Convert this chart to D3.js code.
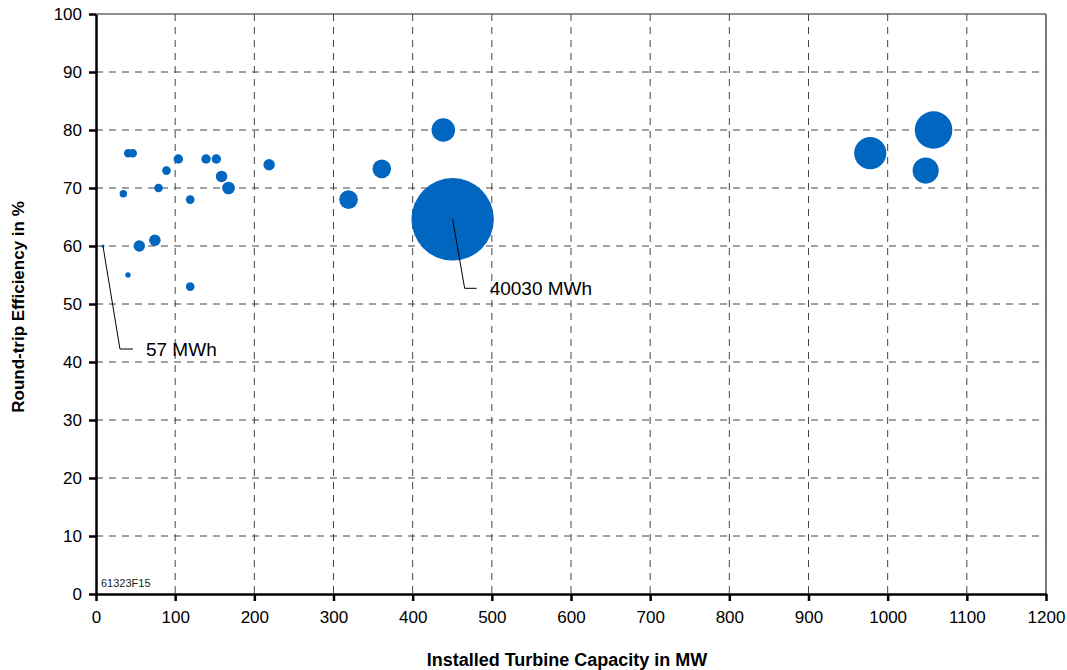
<!DOCTYPE html>
<html>
<head>
<meta charset="utf-8">
<script src="https://cdn.jsdelivr.net/npm/d3@7"></script>
<style>
  body { margin: 0; background: #fff; }
  svg { display: block; font-family: "Liberation Sans", Arial, sans-serif; }
</style>
</head>
<body>
<div id="chart"></div>
<script>
// installed turbine capacity (MW), round-trip efficiency (%), storage (MWh)
const capacity   = [8.8, 34.5, 40.4, 40.8, 46.3, 54.7, 74.4, 79, 89, 104, 119, 119, 139, 152, 158.6, 167.4, 218.7, 319, 361, 438.7, 450.5, 978, 1048, 1058];
const efficiency = [60, 69, 55, 76, 76, 60, 61, 70, 73, 75, 68, 53, 75, 75, 72, 70, 74, 68, 73.3, 80, 64.6, 76, 73, 80];
const storage    = [57, 326, 174, 440, 440, 774, 774, 440, 440, 526, 440, 440, 526, 526, 774, 945, 774, 2060, 2060, 3260, 40030, 6100, 4020, 8330];

const xTicks = [0, 100, 200, 300, 400, 500, 600, 700, 800, 900, 1000, 1100, 1200];
const yTicks = [0, 10, 20, 30, 40, 50, 60, 70, 80, 90, 100];

// annotated bubbles: index into the arrays above and the text shown
const callouts = [
  {i: 0,  text: "57 MWh",    dx: 17, dy: 103, h: 13},
  {i: 20, text: "40030 MWh", dx: 12, dy: 69,  h: 12}
];

const W = 1067, H = 670;
const margin = {top: 14, right: 21, bottom: 76, left: 96};
const width = W - margin.left - margin.right,
      height = H - margin.top - margin.bottom;

const svg = d3.select("#chart").append("svg")
    .attr("width", W).attr("height", H);

const g = svg.append("g")
    .attr("transform", "translate(" + margin.left + "," + margin.top + ")");

const x = d3.scaleLinear().domain([0, 1200]).range([0, width]);
const y = d3.scaleLinear().domain([0, 100]).range([height, 0]);
const r = d3.scaleSqrt().domain([0, 40030]).range([0, 41.2]);

// frame (top and right)
g.append("line").attr("x1", 0).attr("x2", width).attr("y1", 0).attr("y2", 0)
    .attr("stroke", "#222").attr("stroke-width", 1.2);
g.append("line").attr("x1", width).attr("x2", width).attr("y1", 0).attr("y2", height)
    .attr("stroke", "#222").attr("stroke-width", 1.2);

// dashed grid
g.selectAll(".vgrid")
    .data(xTicks.filter(d => d > 0 && d < 1200))
    .enter().append("line")
    .attr("class", "vgrid")
    .attr("x1", d => x(d)).attr("x2", d => x(d))
    .attr("y1", 0).attr("y2", height)
    .attr("stroke", "#444")
    .attr("stroke-dasharray", "7,6");

g.selectAll(".hgrid")
    .data(yTicks.filter(d => d > 0 && d < 100))
    .enter().append("line")
    .attr("class", "hgrid")
    .attr("x1", 0).attr("x2", width)
    .attr("y1", d => y(d)).attr("y2", d => y(d))
    .attr("stroke", "#444")
    .attr("stroke-dasharray", "7,6");

// bubbles, largest drawn first
const idx = d3.range(capacity.length).sort((a, b) => storage[b] - storage[a]);
g.selectAll(".bubble")
    .data(idx)
    .enter().append("circle")
    .attr("class", "bubble")
    .attr("cx", i => x(capacity[i]))
    .attr("cy", i => y(efficiency[i]))
    .attr("r", i => Math.max(1.5, r(storage[i])))
    .attr("fill", "#0066c0");

// callouts
callouts.forEach(function(c) {
    const px = x(capacity[c.i]), py = y(efficiency[c.i]);
    g.append("path")
        .attr("d", "M" + px + "," + py + "L" + (px + c.dx) + "," + (py + c.dy) + "h" + c.h)
        .attr("fill", "none").attr("stroke", "#000").attr("stroke-width", 1);
    g.append("text")
        .attr("x", px + c.dx + c.h + 13).attr("y", py + c.dy)
        .attr("dy", "0.35em")
        .style("font-size", "19px")
        .text(c.text);
});

// axes
const xAxis = g.append("g")
    .attr("transform", "translate(0," + height + ")")
    .call(d3.axisBottom(x).tickValues(xTicks).tickFormat(d3.format("d"))
        .tickSize(7).tickPadding(10).tickSizeOuter(0));
const yAxis = g.append("g")
    .call(d3.axisLeft(y).tickValues(yTicks).tickFormat(d3.format("d"))
        .tickSize(7).tickPadding(7).tickSizeOuter(0));

[xAxis, yAxis].forEach(function(a) {
    a.select(".domain").attr("stroke", "#000").attr("stroke-width", 2.5);
    a.selectAll(".tick line").attr("stroke", "#000").attr("stroke-width", 2.5);
    a.selectAll(".tick text")
        .style("font-size", "17px")
        .style("font-family", "'Liberation Sans', Arial, sans-serif")
        .attr("fill", "#000");
});

// figure id
g.append("text")
    .attr("x", 5).attr("y", height - 7)
    .style("font-size", "11px")
    .attr("fill", "#222")
    .text("61323F15");

// axis titles
svg.append("text")
    .attr("x", margin.left + width / 2 - 4)
    .attr("y", 666)
    .attr("text-anchor", "middle")
    .style("font-size", "18px")
    .style("font-weight", "bold")
    .text("Installed Turbine Capacity in MW");

svg.append("text")
    .attr("transform", "translate(24," + (margin.top + height / 2 + 3) + ")rotate(-90)")
    .attr("text-anchor", "middle")
    .style("font-size", "17px")
    .style("font-weight", "bold")
    .text("Round-trip Efficiency in %");
</script>
</body>
</html>
